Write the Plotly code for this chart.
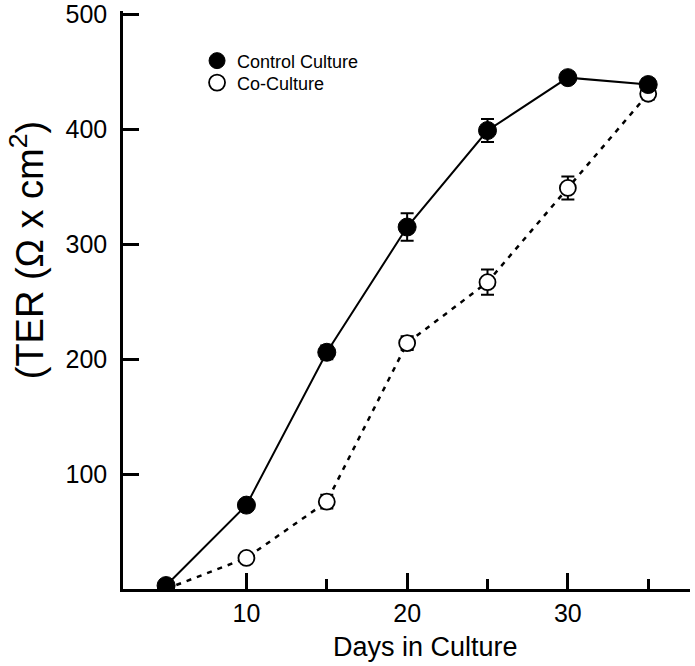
import plotly.graph_objects as go

days = [5, 10, 15, 20, 25, 30, 35]
control = [3, 73, 206, 315, 399, 445, 439]
control_err = [2, 3, 6, 12, 10, 2, 5]
coculture = [0, 27, 76, 214, 267, 349, 431]
coculture_err = [1, 2, 6, 6, 11, 10, 5]
x_ticks = [10, 20, 30]
y_ticks = [100, 200, 300, 400, 500]

FONT = "Liberation Sans, Arial, sans-serif"

W, H = 695, 666
Y_TOP = 503
PL, PR, PB = 123, 690, 589  # plot area in page pixels
PX_PER_UNIT = (589 - 14) / 500.0
PT = PB - Y_TOP * PX_PER_UNIT

fig = go.Figure()
fig.add_trace(go.Scatter(x=days, y=coculture, mode="lines", showlegend=False,
                         line=dict(color="black", width=2.5, dash="5px,6px"), hoverinfo="skip"))
fig.add_trace(go.Scatter(x=days, y=control, mode="lines", showlegend=False,
                         line=dict(color="black", width=2), hoverinfo="skip"))
fig.add_trace(go.Scatter(x=days, y=coculture, mode="markers", name="Co-Culture", legend="legend2",
                         marker=dict(symbol="circle", size=16, color="white",
                                     line=dict(color="black", width=1.8)),
                         error_y=dict(type="data", array=coculture_err, visible=True,
                                      color="black", thickness=2, width=6.5)))
fig.add_trace(go.Scatter(x=days, y=control, mode="markers", name="Control Culture", legend="legend",
                         marker=dict(symbol="circle", size=18, color="black",
                                     line=dict(color="black", width=1)),
                         error_y=dict(type="data", array=control_err, visible=True,
                                      color="black", thickness=2, width=6.5)))

pw = PR - PL
ph = PB - PT
leg_common = dict(xanchor="left", yanchor="top", font=dict(size=18, family=FONT),
                  bgcolor="rgba(0,0,0,0)", itemsizing="trace")

def ypage(p):
    return (PB - p) / ph

fig.update_layout(
    width=W, height=H,
    margin=dict(l=PL, r=W - PR, t=PT, b=H - PB, autoexpand=False),
    paper_bgcolor="white", plot_bgcolor="white",
    font=dict(family=FONT, color="black", size=25),
    showlegend=True,
    legend=dict(x=0.1306, y=ypage(42), **leg_common),
    legend2=dict(x=0.1306, y=ypage(64), **leg_common),
    xaxis=dict(range=[2.32, 37.6], showline=True, linecolor="black", linewidth=2.5,
               tickvals=x_ticks, ticks="inside", ticklen=16, tickwidth=2.5, tickcolor="black",
               showgrid=False, zeroline=False, tickfont=dict(size=25),
               minor=dict(dtick=5, tick0=0, ticks="inside", ticklen=10, tickwidth=2.5,
                          tickcolor="black", showgrid=False),
               ticklabelstandoff=0),
    yaxis=dict(range=[0, Y_TOP], showline=True, linecolor="black", linewidth=2.5,
               tickvals=y_ticks, ticks="inside", ticklen=16, tickwidth=2.5, tickcolor="black",
               showgrid=False, zeroline=False, tickfont=dict(size=25),
               ticklabelstandoff=8, ticklabeloverflow="allow"),
    annotations=[
        dict(text="Days in Culture", xref="paper", yref="paper",
             x=(425 - PL) / pw, y=ypage(647), xanchor="center", yanchor="middle",
             showarrow=False, font=dict(size=27, family=FONT)),
        dict(text="(TER (\u03a9 x cm<sup>2</sup>)", xref="paper", yref="paper",
             x=-(PL - 27) / pw, y=ypage(250), xanchor="center", yanchor="middle",
             textangle=-90, showarrow=False, font=dict(size=38, family=FONT)),
    ],
)

fig.write_html("out.html", config={"displayModeBar": False},
               post_script="document.body.style.margin='0';")
